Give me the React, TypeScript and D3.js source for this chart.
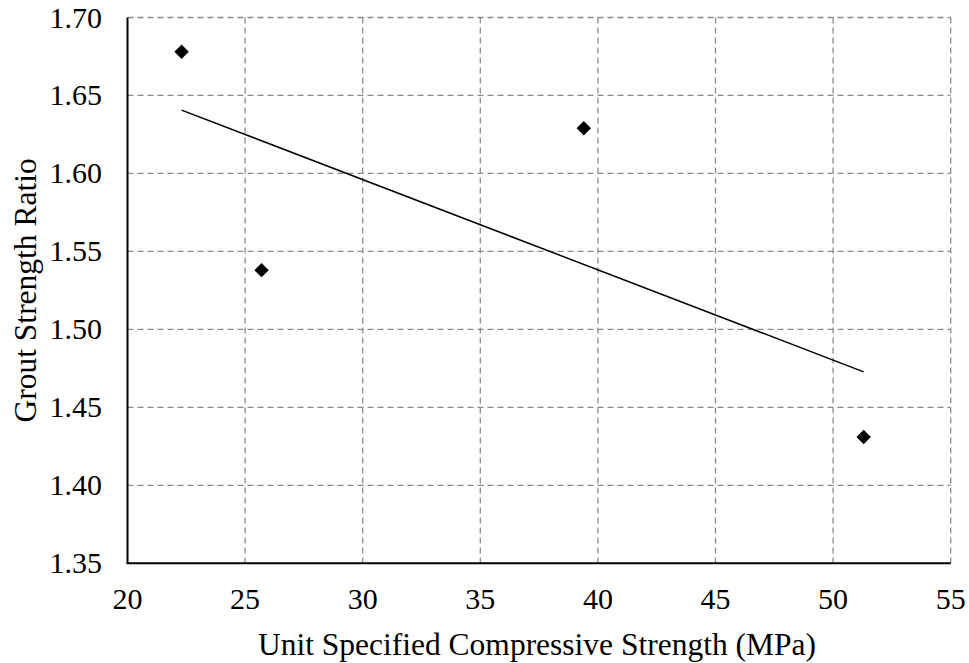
import React from "react";
import * as d3 from "d3";

const strengthMPa = [22.3, 25.7, 39.4, 51.3];
const groutRatio = [1.678, 1.538, 1.629, 1.431];
const xTicks = [20, 25, 30, 35, 40, 45, 50, 55];
const yTicks = [1.35, 1.4, 1.45, 1.5, 1.55, 1.6, 1.65, 1.7];
const xTitle = "Unit Specified Compressive Strength (MPa)";
const yTitle = "Grout Strength Ratio";

const W = 969;
const H = 663;
const left = 127.5;
const right = 950.7;
const top = 17.5;
const bottom = 563.3;
const FONT = "'Liberation Serif', 'Times New Roman', serif";

export default function App() {
  const x = d3.scaleLinear().domain([20, 55]).range([left, right]);
  const y = d3.scaleLinear().domain([1.35, 1.7]).range([bottom, top]);

  const mx = d3.mean(strengthMPa)!;
  const my = d3.mean(groutRatio)!;
  let sxy = 0;
  let sxx = 0;
  strengthMPa.forEach((v, i) => {
    sxy += (v - mx) * (groutRatio[i] - my);
    sxx += (v - mx) * (v - mx);
  });
  const slope = sxy / sxx;
  const intercept = my - slope * mx;
  const [x0, x1] = d3.extent(strengthMPa) as [number, number];
  const trend = d3.line<[number, number]>()
    .x((d) => x(d[0]))
    .y((d) => y(d[1]))([
      [x0, intercept + slope * x0],
      [x1, intercept + slope * x1],
    ]);

  const diamond = d3.symbol().type(d3.symbolDiamond2 ?? d3.symbolDiamond).size(98)();
  const dPath = "M0,-7.2L7.2,0L0,7.2L-7.2,0Z";

  return (
    <svg
      width={W}
      height={H}
      style={{ position: "absolute", left: 0, top: 0, background: "#fff" }}
      fontFamily={FONT}
    >
      {/* grid */}
      <g stroke="#8c8c8c" strokeWidth={1.3} strokeDasharray="6,4" fill="none">
        {yTicks.slice(1).map((t) => (
          <line key={"gy" + t} x1={left} x2={right} y1={y(t)} y2={y(t)} />
        ))}
        {xTicks.slice(1).map((t) => (
          <line key={"gx" + t} x1={x(t)} x2={x(t)} y1={top} y2={bottom} />
        ))}
      </g>
      {/* axes */}
      <line x1={left} x2={left} y1={top} y2={bottom} stroke="#000" strokeWidth={2} />
      <line x1={left - 1} x2={right} y1={bottom} y2={bottom} stroke="#000" strokeWidth={2} />
      {/* tick labels */}
      {yTicks.map((t) => (
        <text key={"ty" + t} x={102} y={y(t) + 10} textAnchor="end" fontSize={30} fill="#000">
          {t.toFixed(2)}
        </text>
      ))}
      {xTicks.map((t) => (
        <text key={"tx" + t} x={x(t)} y={609} textAnchor="middle" fontSize={30} fill="#000">
          {t}
        </text>
      ))}
      {/* trendline */}
      <path d={trend ?? ""} stroke="#000" strokeWidth={1.5} fill="none" />
      {/* points */}
      {strengthMPa.map((v, i) => (
        <path
          key={"p" + i}
          d={dPath || diamond || ""}
          transform={`translate(${x(v)},${y(groutRatio[i])})`}
          fill="#000"
        />
      ))}
      {/* titles */}
      <text x={537} y={655} textAnchor="middle" fontSize={31.5} fill="#000">
        {xTitle}
      </text>
      <text
        transform={`translate(36,${(top + bottom) / 2}) rotate(-90)`}
        textAnchor="middle"
        fontSize={31.5}
        fill="#000"
      >
        {yTitle}
      </text>
    </svg>
  );
}
